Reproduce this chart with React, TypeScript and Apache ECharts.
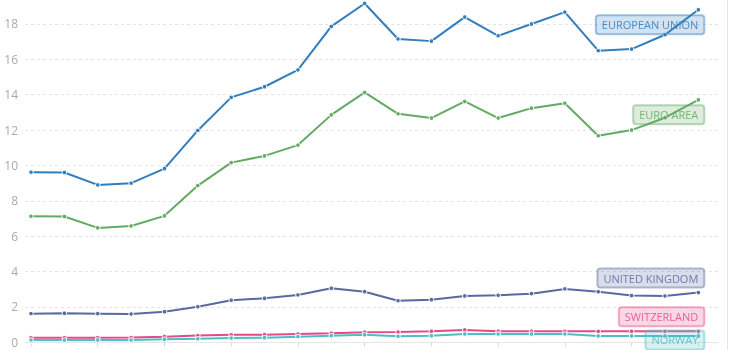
import React, { useEffect, useRef } from "react";
import * as echarts from "echarts";

const years = [1999, 2000, 2001, 2002, 2003, 2004, 2005, 2006, 2007, 2008, 2009, 2010, 2011, 2012, 2013, 2014, 2015, 2016, 2017, 2018, 2019];
const yTicks = [0, 2, 4, 6, 8, 10, 12, 14, 16, 18, 20];

const europeanUnion = [9.62, 9.6, 8.9, 9.0, 9.82, 11.98, 13.85, 14.45, 15.4, 17.86, 19.16, 17.15, 17.03, 18.39, 17.33, 18.0, 18.67, 16.49, 16.58, 17.39, 18.8];
const euroArea = [7.13, 7.11, 6.47, 6.58, 7.15, 8.86, 10.16, 10.54, 11.15, 12.86, 14.13, 12.92, 12.68, 13.62, 12.68, 13.24, 13.52, 11.68, 12.0, 12.7, 13.71];
const unitedKingdom = [1.62, 1.64, 1.62, 1.6, 1.73, 2.01, 2.38, 2.49, 2.68, 3.06, 2.86, 2.35, 2.41, 2.62, 2.66, 2.75, 3.02, 2.86, 2.64, 2.62, 2.81];
const switzerland = [0.26, 0.26, 0.26, 0.27, 0.32, 0.38, 0.42, 0.43, 0.47, 0.51, 0.57, 0.58, 0.62, 0.7, 0.63, 0.62, 0.62, 0.62, 0.62, 0.62, 0.62];
const norway = [0.13, 0.13, 0.13, 0.13, 0.17, 0.2, 0.24, 0.26, 0.32, 0.37, 0.43, 0.34, 0.37, 0.47, 0.47, 0.47, 0.47, 0.36, 0.36, 0.36, 0.36];

const seriesNames = ["EUROPEAN UNION", "EURO AREA", "UNITED KINGDOM", "SWITZERLAND", "NORWAY"];
const seriesValues = [europeanUnion, euroArea, unitedKingdom, switzerland, norway];
const seriesColors = ["49,125,189", "99,170,99", "88,106,160", "230,73,136", "77,190,196"];
const labelDy = [15, 15, -14.5, -14.5, 4];

export default function App() {
  const ref = useRef<HTMLDivElement>(null);
  useEffect(() => {
    if (!ref.current) return;
    const chart = echarts.init(ref.current, undefined, { renderer: "svg" });
    const series = seriesNames.map((name, i) => ({
      name,
      type: "line",
      data: seriesValues[i].map((v, j) => [years[j], v]),
      symbol: "circle",
      symbolSize: 4.5,
      showSymbol: true,
      z: 3,
      lineStyle: { width: 2, color: `rgb(${seriesColors[i]})` },
      itemStyle: { color: `rgb(${seriesColors[i]})`, borderColor: "#fff", borderWidth: 1 },
    }));
    chart.setOption({
      animation: false,
      grid: { left: 25, right: 12, top: -11.4, bottom: 7.7, outerBoundsMode: "none", containLabel: false },
      xAxis: {
        type: "value",
        min: 1998.82,
        max: 2019.59,
        axisLine: { show: true, lineStyle: { color: "#e6e6e6", width: 1 } },
        axisTick: {
          show: true,
          length: 4,
          lineStyle: { color: "#dcdcdc" },
          customValues: years.filter((y, i) => i % 2 === 0),
        },
        axisLabel: { show: false },
        splitLine: { show: false },
      },
      yAxis: {
        type: "value",
        min: yTicks[0],
        max: yTicks[yTicks.length - 1],
        interval: 2,
        axisLine: { show: false },
        axisTick: { show: false },
        axisLabel: { color: "#aaaaaa", fontSize: 12, fontFamily: "Open Sans", margin: 7, showMaxLabel: false },
        splitLine: { show: true, lineStyle: { color: "#e3e3e3", type: [3, 3], width: 1 } },
      },
      series,
    });
    const texts = seriesNames.map((name, i) => {
      const last = years.length - 1;
      const p = chart.convertToPixel({ xAxisIndex: 0, yAxisIndex: 0 }, [years[last], seriesValues[i][last]]) as number[];
      return {
        type: "text",
        x: p[0] + 6,
        y: p[1] + labelDy[i],
        z: 10,
        style: {
          text: name,
          fill: `rgba(${seriesColors[i]},0.85)`,
          fontSize: 11,
          fontFamily: "Open Sans",
          align: "right",
          verticalAlign: "middle",
          backgroundColor: `rgba(${seriesColors[i]},0.22)`,
          borderColor: `rgba(${seriesColors[i]},0.45)`,
          borderWidth: 1,
          borderRadius: 3,
          padding: [4, 6, 4, 6],
        },
      };
    });
    chart.setOption({
      graphic: [
        ...texts,
        {
          type: "line",
          z: 0,
          shape: { x1: 727.5, y1: 0, x2: 727.5, y2: 350 },
          style: { stroke: "#e6e6e6", lineWidth: 1 },
        },
      ],
    });
    return () => chart.dispose();
  }, []);
  return <div ref={ref} style={{ position: "fixed", left: 0, top: 0, width: 730, height: 350 }} />;
}
